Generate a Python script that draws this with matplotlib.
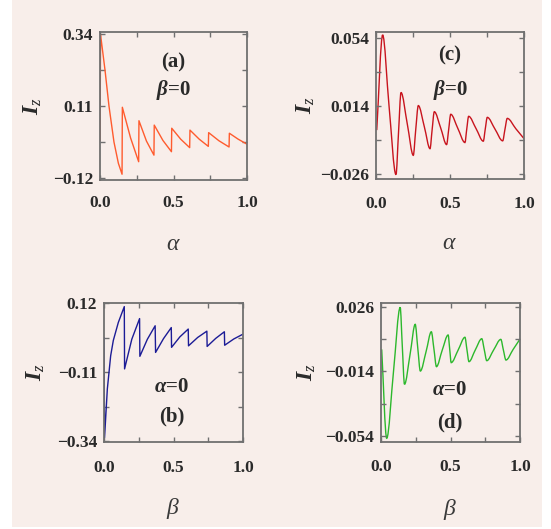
import matplotlib
matplotlib.use('Agg')
import matplotlib.pyplot as plt
import numpy as np
from matplotlib.path import Path
from matplotlib.patches import PathPatch, Rectangle

# ---------------- data ----------------
# (a) I_z vs alpha, beta = 0
a_alpha = [0.000, 0.004, 0.034, 0.061, 0.095, 0.125, 0.150, 0.152, 0.208, 0.263,
           0.265, 0.316, 0.367, 0.369, 0.428, 0.486, 0.488, 0.549, 0.610, 0.612,
           0.675, 0.737, 0.739, 0.809, 0.878, 0.880, 0.940, 1.000]
a_Iz = [0.000, 0.337, 0.225, 0.110, -0.005, -0.073, -0.108, 0.106, 0.008, -0.068,
        0.063, -0.002, -0.047, 0.049, 0.000, -0.036, 0.039, 0.004, -0.023, 0.033,
        0.004, -0.019, 0.025, -0.001, -0.021, 0.023, 0.004, -0.012]

# (b) I_z vs beta, alpha = 0
b_beta = [0.000, 0.004, 0.024, 0.048, 0.067, 0.103, 0.146, 0.148, 0.200, 0.256,
          0.258, 0.312, 0.368, 0.371, 0.428, 0.484, 0.486, 0.546, 0.606, 0.608,
          0.674, 0.740, 0.742, 0.804, 0.866, 0.868, 0.934, 1.000]
b_Iz = [0.005, -0.328, -0.166, -0.055, -0.004, 0.056, 0.109, -0.099, 0.000, 0.069,
        -0.057, 0.000, 0.045, -0.044, 0.002, 0.039, -0.027, 0.008, 0.034, -0.022,
        0.006, 0.027, -0.024, 0.003, 0.025, -0.020, 0.001, 0.017]

# (c) I_z vs alpha, beta = 0
c_alpha = [0.005, 0.045, 0.088, 0.135, 0.152, 0.169, 0.212, 0.252, 0.268, 0.286,
           0.327, 0.365, 0.379, 0.394, 0.437, 0.477, 0.491, 0.505, 0.553, 0.601,
           0.613, 0.626, 0.676, 0.725, 0.738, 0.752, 0.804, 0.856, 0.871, 0.887,
           0.945, 1.000]
c_Iz = [-0.0003, 0.0556, 0.0140, -0.0264, -0.0020, 0.0218, 0.0030, -0.0151, -0.0005, 0.0141,
        0.0015, -0.0112, -0.0003, 0.0105, 0.0010, -0.0088, 0.0000, 0.0090, 0.0007, -0.0076,
        0.0002, 0.0078, 0.0006, -0.0068, 0.0002, 0.0072, 0.0003, -0.0066, 0.0000, 0.0066,
        0.0005, -0.0053]

# (d) I_z vs beta, alpha = 0
d_beta = [0.005, 0.041, 0.090, 0.138, 0.153, 0.169, 0.210, 0.246, 0.265, 0.283,
          0.325, 0.362, 0.381, 0.399, 0.440, 0.483, 0.494, 0.505, 0.555, 0.604,
          0.618, 0.633, 0.678, 0.725, 0.743, 0.761, 0.810, 0.862, 0.880, 0.899,
          0.950, 1.000]
d_Iz = [-0.0004, -0.0554, -0.0140, 0.0256, 0.0020, -0.0220, -0.0030, 0.0151, 0.0000, -0.0138,
        -0.0015, 0.0105, -0.0003, -0.0111, -0.0010, 0.0085, 0.0000, -0.0086, -0.0008, 0.0071,
        -0.0004, -0.0080, -0.0008, 0.0062, -0.0006, -0.0074, -0.0008, 0.0058, -0.0006, -0.0070,
        -0.0005, 0.0060]

x_ticks = [0.0, 0.25, 0.5, 0.75, 1.0]
x_ticklabels = ['0.0', '', '0.5', '', '1.0']
a_yticks = [0.34, 0.225, 0.11, -0.005, -0.12]
a_yticklabels = ['0.34', '', '0.11', '', '\u22120.12']
b_yticks = [0.12, 0.005, -0.11, -0.225, -0.34]
b_yticklabels = ['0.12', '', '\u22120.11', '', '\u22120.34']
c_yticks = [0.054, 0.034, 0.014, -0.006, -0.026]
c_yticklabels = ['0.054', '', '0.014', '', '\u22120.026']
d_yticks = [0.026, 0.006, -0.014, -0.034, -0.054]
d_yticklabels = ['0.026', '', '\u22120.014', '', '\u22120.054']

# ---------------- style ----------------
plt.rcParams['font.family'] = ['Liberation Serif', 'DejaVu Serif']
plt.rcParams['mathtext.fontset'] = 'custom'
plt.rcParams['mathtext.rm'] = 'Liberation Serif'
plt.rcParams['mathtext.it'] = 'Liberation Serif:italic'
plt.rcParams['mathtext.bf'] = 'Liberation Serif:bold'
plt.rcParams['mathtext.bfit'] = 'Liberation Serif:italic:bold'

W, H = 551, 529
fig = plt.figure(figsize=(W / 100, H / 100), dpi=100)
fig.patch.set_facecolor('white')
fig.patches.append(Rectangle((12 / W, 1 - 527 / H), (542 - 12) / W, 527 / H,
                             transform=fig.transFigure, facecolor='#f8eeea',
                             edgecolor='none', zorder=-10))

spine_col = '#707070'
text_col = '#2a2a2a'


def smooth_patch(ax, x, y, color):
    x = np.asarray(x, float)
    y = np.asarray(y, float)
    h = np.diff(x)
    dl = np.diff(y) / h
    m = np.zeros_like(x)
    m[0] = dl[0]
    m[-1] = dl[-1]
    for k in range(1, len(x) - 1):
        if dl[k - 1] * dl[k] <= 0:
            m[k] = 0.0
        else:
            w1 = 2 * h[k] + h[k - 1]
            w2 = h[k] + 2 * h[k - 1]
            m[k] = (w1 + w2) / (w1 / dl[k - 1] + w2 / dl[k])
    verts = [(x[0], y[0])]
    codes = [Path.MOVETO]
    for i in range(len(x) - 1):
        hh = h[i]
        verts += [(x[i] + hh / 3, y[i] + m[i] * hh / 3),
                  (x[i + 1] - hh / 3, y[i + 1] - m[i + 1] * hh / 3),
                  (x[i + 1], y[i + 1])]
        codes += [Path.CURVE4] * 3
    ax.add_patch(PathPatch(Path(verts, codes), fill=False, edgecolor=color, lw=1.0))


def style(ax, yticks, yticklabels, ylim, xlab, xpad, ylab_x, xlab_y):
    ax.set_facecolor('none')
    ax.set_xlim(0, 1)
    ax.set_ylim(*ylim)
    ax.set_xticks(x_ticks)
    ax.set_xticklabels(x_ticklabels)
    ax.set_yticks(yticks)
    ax.set_yticklabels(yticklabels)
    for s in ax.spines.values():
        s.set_color(spine_col)
        s.set_linewidth(1.3)
    ax.tick_params(direction='in', top=True, right=True, length=3.5, width=1.0,
                   color=spine_col, labelsize=12.5, labelcolor=text_col)
    ax.tick_params(axis='x', pad=xpad)
    ax.tick_params(axis='y', pad=5)
    for lab in ax.get_xticklabels() + ax.get_yticklabels():
        lab.set_fontweight('bold')
    ax.set_ylabel(r'$\mathbfit{I}_{z}$', fontsize=17, color=text_col)
    ax.yaxis.set_label_coords(ylab_x, 0.5)
    ax.set_xlabel(xlab, fontsize=17, color='#3a3a3a')
    ax.xaxis.set_label_coords(0.497, xlab_y)


def note(ax, x, y, s):
    ax.text(x, y, s, transform=ax.transAxes, ha='center', va='center',
            fontsize=15, fontweight='bold', color=text_col)


# axes rectangles (figure fraction)
ax_a = fig.add_axes([100 / W, 1 - 180 / H, 147 / W, 148 / H])
ax_c = fig.add_axes([376 / W, 1 - 179 / H, 148 / W, 147.5 / H])
ax_b = fig.add_axes([104 / W, 1 - 442 / H, 139 / W, 139 / H])
ax_d = fig.add_axes([381 / W, 1 - 442 / H, 139 / W, 139 / H])

# (a)
ax_a.plot(a_alpha, a_Iz, color='#ff5b2e', lw=1.0)
style(ax_a, a_yticks, a_yticklabels, (-0.1264, 0.3464), r'$\alpha$', 11, -0.38, -0.366)
note(ax_a, 0.497, 0.797, '(a)')
note(ax_a, 0.497, 0.608, r'$\mathbfit{\beta}$=0')

# (c)
smooth_patch(ax_c, c_alpha, c_Iz, '#c8141e')
style(ax_c, c_yticks, c_yticklabels, (-0.029, 0.0576), r'$\alpha$', 12, -0.40, -0.366)
note(ax_c, 0.5, 0.838, '(c)')
note(ax_c, 0.5, 0.60, r'$\mathbfit{\beta}$=0')

# (b)
ax_b.plot(b_beta, b_Iz, color='#1c1c96', lw=1.0)
style(ax_b, b_yticks, b_yticklabels, (-0.343, 0.121), r'$\beta$', 13, -0.41, -0.388)
note(ax_b, 0.487, 0.394, r'$\mathbfit{\alpha}$=0')
note(ax_b, 0.487, 0.182, '(b)')

# (d)
smooth_patch(ax_d, d_beta, d_Iz, '#2cb82c')
style(ax_d, d_yticks, d_yticklabels, (-0.0577, 0.0283), r'$\beta$', 12, -0.455, -0.397)
note(ax_d, 0.496, 0.374, r'$\mathbfit{\alpha}$=0')
note(ax_d, 0.496, 0.137, '(d)')

fig.savefig('out.png', dpi=100, facecolor=fig.get_facecolor())
